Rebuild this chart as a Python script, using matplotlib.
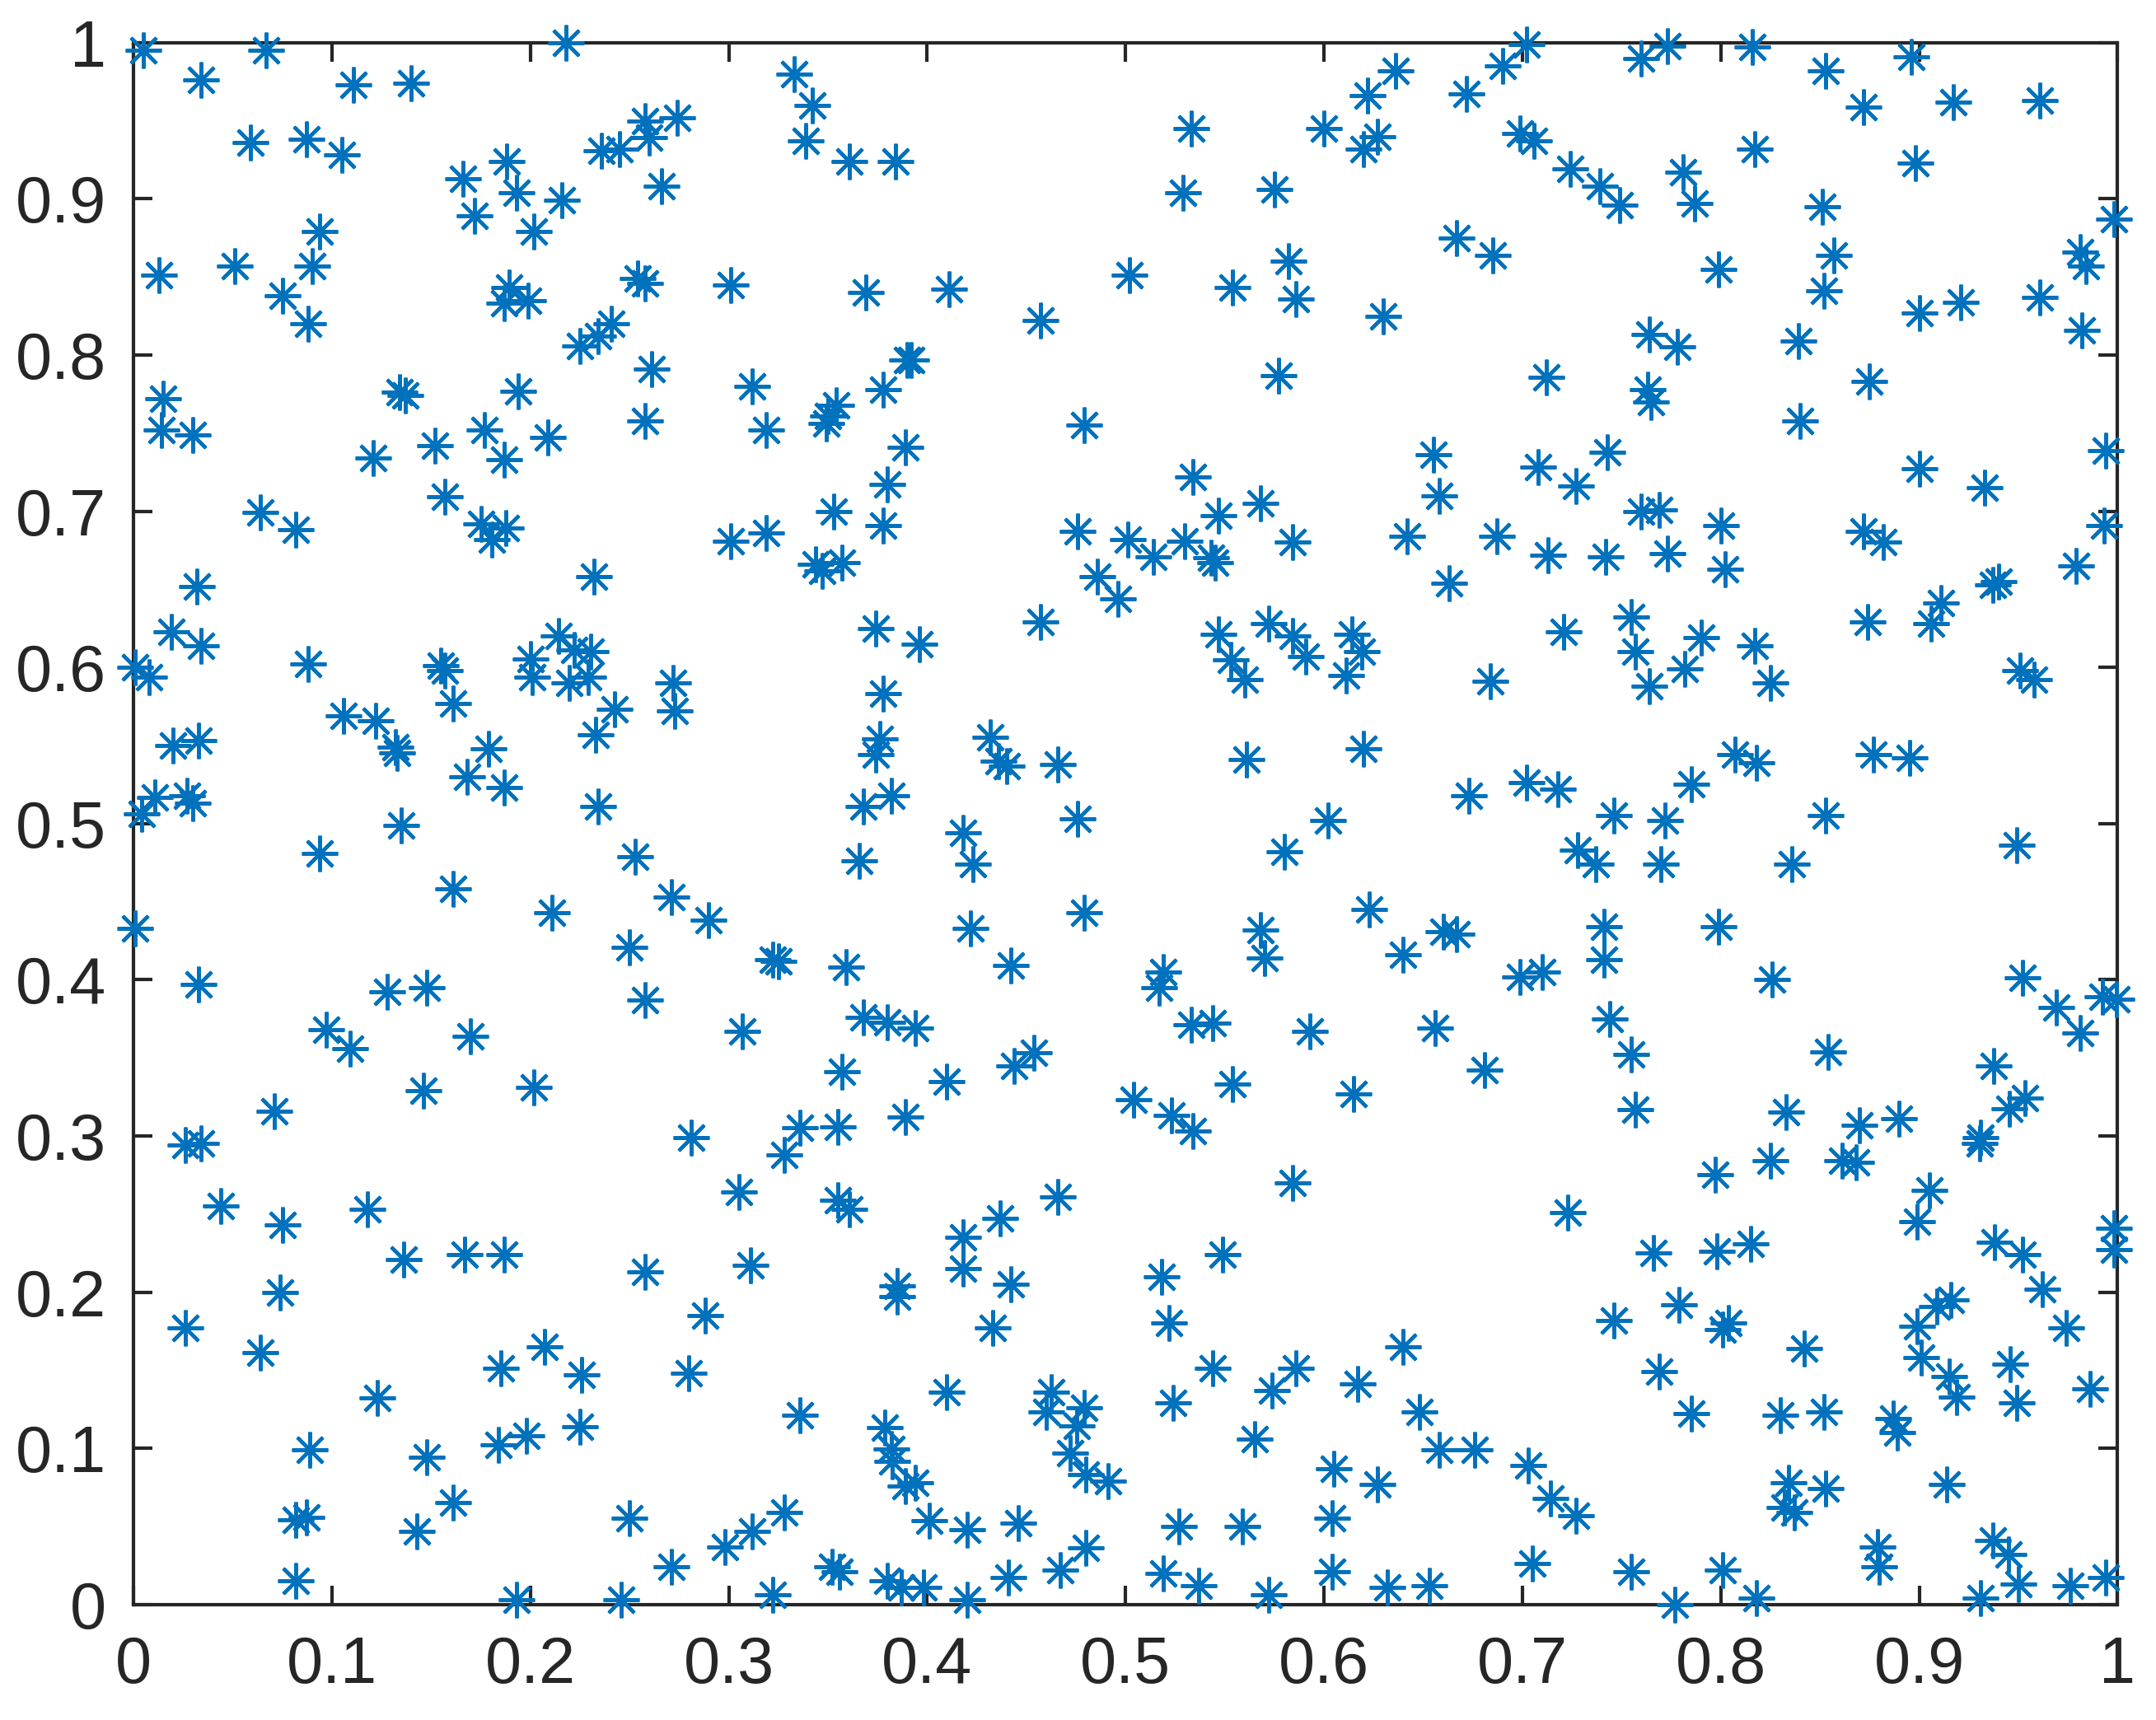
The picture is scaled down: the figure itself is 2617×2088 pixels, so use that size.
import matplotlib
matplotlib.use("Agg")
import matplotlib.pyplot as plt

# points, grouped by y band
band_9 = [(0.005, 0.995), (0.067, 0.995), (0.034, 0.976), (0.111, 0.973), (0.140, 0.974),
          (0.218, 1.0), (0.059, 0.936), (0.087, 0.938), (0.105, 0.928), (0.236, 0.931),
          (0.245, 0.932), (0.260, 0.939), (0.258, 0.95), (0.274, 0.952), (0.266, 0.908),
          (0.216, 0.899), (0.188, 0.924), (0.166, 0.913), (0.172, 0.889), (0.193, 0.904),
          (0.202, 0.879), (0.094, 0.879), (0.333, 0.98), (0.342, 0.96), (0.339, 0.937),
          (0.361, 0.924), (0.384, 0.924), (0.533, 0.945), (0.529, 0.904), (0.575, 0.906),
          (0.600, 0.945), (0.622, 0.966), (0.636, 0.982), (0.627, 0.94), (0.620, 0.932),
          (0.672, 0.967), (0.690, 0.985), (0.702, 0.999), (0.699, 0.942), (0.706, 0.937),
          (0.724, 0.919), (0.739, 0.908), (0.749, 0.896), (0.760, 0.99), (0.773, 0.998),
          (0.816, 0.997), (0.817, 0.932), (0.853, 0.982), (0.872, 0.959), (0.896, 0.991),
          (0.898, 0.923), (0.917, 0.962), (0.961, 0.963), (0.781, 0.917), (0.787, 0.897),
          (0.851, 0.895), (0.998, 0.887)]

band_8 = [(0.013, 0.851), (0.051, 0.857), (0.075, 0.838), (0.09, 0.857), (0.088, 0.82),
          (0.1895, 0.843), (0.187, 0.833), (0.199, 0.835), (0.254, 0.849), (0.258, 0.846),
          (0.225, 0.806), (0.234, 0.812), (0.241, 0.82), (0.261, 0.791), (0.301, 0.845),
          (0.369, 0.84), (0.411, 0.842), (0.502, 0.851), (0.457, 0.822), (0.554, 0.843),
          (0.582, 0.86), (0.586, 0.836), (0.63, 0.825), (0.667, 0.875), (0.685, 0.864),
          (0.799, 0.855), (0.857, 0.864), (0.852, 0.841), (0.9, 0.827), (0.921, 0.834),
          (0.961, 0.837), (0.981, 0.866), (0.984, 0.857), (0.982, 0.816), (0.839, 0.809),
          (0.764, 0.813), (0.778, 0.805), (0.39, 0.797), (0.392, 0.797)]

band_7 = [(0.015, 0.772), (0.014, 0.752), (0.03, 0.749), (0.121, 0.734), (0.134, 0.776),
          (0.137, 0.774), (0.152, 0.742), (0.177, 0.752), (0.194, 0.777), (0.187, 0.733),
          (0.209, 0.747), (0.157, 0.709), (0.064, 0.699), (0.082, 0.688), (0.1753, 0.692),
          (0.1878, 0.689), (0.1805, 0.682), (0.258, 0.758), (0.301, 0.681),
          (0.319, 0.686), (0.319, 0.752), (0.312, 0.78), (0.35, 0.761), (0.354, 0.768),
          (0.349, 0.756), (0.378, 0.778), (0.389, 0.741), (0.38, 0.717), (0.378, 0.691),
          (0.353, 0.7), (0.344, 0.666), (0.347, 0.662), (0.357, 0.667), (0.232, 0.658),
          (0.032, 0.652), (0.479, 0.755), (0.476, 0.687), (0.486, 0.658), (0.496, 0.644),
          (0.501, 0.682), (0.514, 0.671), (0.53, 0.681), (0.534, 0.722), (0.543, 0.67),
          (0.547, 0.697), (0.545, 0.667), (0.568, 0.705), (0.584, 0.68), (0.577, 0.787),
          (0.655, 0.736), (0.658, 0.71), (0.663, 0.654), (0.642, 0.684), (0.687, 0.684),
          (0.712, 0.786), (0.708, 0.728), (0.713, 0.672), (0.727, 0.716), (0.743, 0.738),
          (0.742, 0.671), (0.763, 0.778), (0.765, 0.77), (0.76, 0.7), (0.769, 0.701),
          (0.773, 0.673), (0.8, 0.691), (0.802, 0.663), (0.84, 0.758), (0.875, 0.783),
          (0.872, 0.687), (0.882, 0.68), (0.9, 0.727), (0.933, 0.715), (0.994, 0.739),
          (0.993, 0.691), (0.979, 0.665), (0.937, 0.653), (0.94, 0.655)]

band_6 = [(0.001, 0.6), (0.008, 0.594), (0.019, 0.623), (0.034, 0.614), (0.088, 0.602),
          (0.106, 0.569), (0.122, 0.566), (0.155, 0.601), (0.157, 0.598), (0.161, 0.577),
          (0.2, 0.6055), (0.201, 0.594), (0.2144, 0.62), (0.2196, 0.59), (0.2223, 0.611),
          (0.2306, 0.61), (0.2294, 0.594), (0.2425, 0.573), (0.272, 0.59),
          (0.273, 0.572), (0.374, 0.625), (0.378, 0.583), (0.396, 0.615), (0.457, 0.629),
          (0.547, 0.621), (0.553, 0.605), (0.56, 0.592), (0.572, 0.628), (0.584, 0.62),
          (0.591, 0.607), (0.611, 0.595), (0.614, 0.621), (0.619, 0.61), (0.684, 0.591),
          (0.721, 0.623), (0.755, 0.632), (0.757, 0.61), (0.764, 0.588), (0.782, 0.599),
          (0.79, 0.619), (0.817, 0.614), (0.825, 0.59), (0.874, 0.629), (0.906, 0.628),
          (0.911, 0.641), (0.951, 0.598), (0.958, 0.592)]

band_5 = [(0.004, 0.506), (0.011, 0.517), (0.02, 0.55), (0.033, 0.553), (0.027, 0.518),
          (0.03, 0.513), (0.132, 0.549), (0.133, 0.545), (0.135, 0.499), (0.179, 0.548),
          (0.168, 0.53), (0.187, 0.523), (0.233, 0.557), (0.234, 0.511), (0.094, 0.481),
          (0.253, 0.479), (0.368, 0.511), (0.382, 0.518), (0.366, 0.476), (0.374, 0.544),
          (0.376, 0.554), (0.432, 0.555), (0.436, 0.54), (0.44, 0.537), (0.466, 0.538),
          (0.418, 0.494), (0.423, 0.474), (0.476, 0.503), (0.561, 0.541), (0.58, 0.482),
          (0.602, 0.502), (0.62, 0.548), (0.673, 0.518), (0.702, 0.526), (0.718, 0.522),
          (0.728, 0.483), (0.737, 0.474), (0.746, 0.505), (0.772, 0.502), (0.77, 0.474),
          (0.785, 0.525), (0.807, 0.544), (0.818, 0.539), (0.836, 0.474), (0.853, 0.505),
          (0.877, 0.544), (0.895, 0.542), (0.949, 0.486)]

band_4 = [(0.001, 0.433), (0.161, 0.458), (0.211, 0.443), (0.25, 0.421), (0.271, 0.453),
          (0.29, 0.438), (0.258, 0.387), (0.322, 0.413), (0.325, 0.412), (0.359, 0.408),
          (0.422, 0.433), (0.442, 0.409), (0.479, 0.443), (0.517, 0.395), (0.519, 0.405),
          (0.568, 0.432), (0.57, 0.414), (0.623, 0.445), (0.64, 0.416), (0.66, 0.431),
          (0.667, 0.429), (0.699, 0.402), (0.71, 0.405), (0.741, 0.434), (0.741, 0.413),
          (0.799, 0.434), (0.826, 0.4), (0.952, 0.401), (0.9924, 0.389), (0.9993, 0.3875),
          (0.033, 0.397), (0.128, 0.392), (0.148, 0.395)]

band_3 = [(0.097, 0.368), (0.109, 0.356), (0.17, 0.364), (0.146, 0.329), (0.202, 0.331),
          (0.071, 0.316), (0.026, 0.294), (0.034, 0.295), (0.307, 0.367), (0.368, 0.376),
          (0.38, 0.373), (0.394, 0.369), (0.357, 0.341), (0.355, 0.306), (0.336, 0.305),
          (0.328, 0.288), (0.281, 0.299), (0.389, 0.312), (0.41, 0.335), (0.444, 0.345),
          (0.454, 0.353), (0.504, 0.323), (0.523, 0.313), (0.534, 0.303), (0.533, 0.371),
          (0.544, 0.372), (0.554, 0.333), (0.593, 0.367), (0.615, 0.327), (0.656, 0.369),
          (0.681, 0.342), (0.744, 0.375), (0.755, 0.352), (0.757, 0.317), (0.833, 0.315),
          (0.854, 0.354), (0.861, 0.284), (0.87, 0.307), (0.868, 0.283), (0.89, 0.311),
          (0.9377, 0.345), (0.931, 0.299), (0.9305, 0.295), (0.9453, 0.3175), (0.9532, 0.3242),
          (0.969, 0.382), (0.981, 0.366), (0.825, 0.284)]

band_2 = [(0.044, 0.255), (0.118, 0.253), (0.075, 0.243), (0.074, 0.2), (0.026, 0.177),
          (0.136, 0.221), (0.167, 0.224), (0.187, 0.224), (0.305, 0.264), (0.311, 0.217),
          (0.258, 0.213), (0.355, 0.259), (0.361, 0.253), (0.385, 0.204), (0.385, 0.197),
          (0.418, 0.235), (0.418, 0.215), (0.437, 0.247), (0.442, 0.205), (0.466, 0.261),
          (0.518, 0.21), (0.549, 0.224), (0.522, 0.18), (0.584, 0.27), (0.723, 0.251),
          (0.797, 0.275), (0.766, 0.225), (0.798, 0.226), (0.815, 0.231), (0.779, 0.192),
          (0.801, 0.176), (0.804, 0.18), (0.746, 0.182), (0.905, 0.265), (0.899, 0.245),
          (0.938, 0.232), (0.952, 0.224), (0.998, 0.241), (0.998, 0.227), (0.962, 0.202),
          (0.916, 0.195), (0.909, 0.191), (0.899, 0.178), (0.974, 0.177), (0.842, 0.164)]

band_1 = [(0.064, 0.161), (0.185, 0.151), (0.207, 0.165), (0.226, 0.147), (0.28, 0.148),
          (0.288, 0.185), (0.123, 0.132), (0.148, 0.094), (0.089, 0.099), (0.161, 0.065),
          (0.184, 0.102), (0.198, 0.108), (0.225, 0.114), (0.143, 0.047), (0.41, 0.136),
          (0.433, 0.177), (0.336, 0.121), (0.3785, 0.113), (0.382, 0.0995), (0.3823, 0.0918),
          (0.389, 0.076), (0.394, 0.078), (0.4625, 0.136), (0.46, 0.123), (0.479, 0.126),
          (0.4756, 0.1145), (0.4723, 0.097), (0.480, 0.083), (0.491, 0.079),
          (0.524, 0.129), (0.544, 0.151), (0.586, 0.151), (0.574, 0.137), (0.565, 0.106),
          (0.617, 0.141), (0.64, 0.165), (0.648, 0.123), (0.658, 0.099), (0.676, 0.099),
          (0.769, 0.149), (0.785, 0.122), (0.83, 0.121), (0.852, 0.123), (0.887, 0.119),
          (0.889, 0.11), (0.901, 0.158), (0.915, 0.146), (0.919, 0.133), (0.946, 0.154),
          (0.949, 0.129), (0.986, 0.138)]

band_0 = [(0.082, 0.054), (0.087, 0.056), (0.082, 0.015), (0.25, 0.055), (0.193, 0.003),
          (0.246, 0.003), (0.271, 0.024), (0.298, 0.037), (0.312, 0.047), (0.328, 0.059),
          (0.322, 0.006), (0.352, 0.024), (0.356, 0.021), (0.38, 0.015), (0.387, 0.011),
          (0.398, 0.011), (0.401, 0.0534), (0.42, 0.048), (0.42, 0.003), (0.441, 0.017),
          (0.446, 0.052), (0.467, 0.022), (0.48, 0.036), (0.519, 0.02), (0.527, 0.05),
          (0.537, 0.012), (0.559, 0.05), (0.572, 0.006), (0.605, 0.087), (0.604, 0.055),
          (0.604, 0.021), (0.627, 0.077), (0.632, 0.011), (0.653, 0.012), (0.703, 0.089),
          (0.714, 0.068), (0.727, 0.057), (0.705, 0.026), (0.755, 0.021), (0.777, 0.0),
          (0.801, 0.022), (0.818, 0.004), (0.834, 0.078), (0.832, 0.062), (0.837, 0.059),
          (0.853, 0.074), (0.879, 0.037), (0.88, 0.024), (0.914, 0.077), (0.931, 0.004),
          (0.937, 0.041), (0.945, 0.032), (0.95, 0.013), (0.976, 0.012), (0.994, 0.017)]

tick_vals = [0, 0.1, 0.2, 0.3, 0.4, 0.5, 0.6, 0.7, 0.8, 0.9, 1]
tick_labels = ["0", "0.1", "0.2", "0.3", "0.4", "0.5", "0.6", "0.7", "0.8", "0.9", "1"]

all_pts = band_9 + band_8 + band_7 + band_6 + band_5 + band_4 + band_3 + band_2 + band_1 + band_0
xs = [p[0] for p in all_pts]
ys = [p[1] for p in all_pts]

plt.rcParams['font.family'] = ['Liberation Sans', 'DejaVu Sans']
axis_col = '#262626'

fig = plt.figure(figsize=(2617 / 300, 2088 / 300), dpi=300)
ax = fig.add_axes([0.0619, 0.0672, 0.9203, 0.9080])

# MATLAB style '*' marker: 8-armed asterisk
ax.plot(xs, ys, linestyle='none', marker=(8, 2, 0), markersize=10.5,
        markeredgewidth=1.0, color='#0072BD', clip_on=False, zorder=3)

ax.set_xlim(0, 1)
ax.set_ylim(0, 1)
ax.set_xticks(tick_vals)
ax.set_xticklabels(tick_labels)
ax.set_yticks(tick_vals)
ax.set_yticklabels(tick_labels)

for s in ax.spines.values():
    s.set_color(axis_col)
    s.set_linewidth(1.0)
ax.tick_params(direction='in', length=5.5, width=1.0, color=axis_col,
               labelcolor=axis_col, labelsize=19, top=True, right=True)
ax.tick_params(axis='x', pad=9)
ax.tick_params(axis='y', pad=8)

fig.savefig('out.png', dpi=300)
